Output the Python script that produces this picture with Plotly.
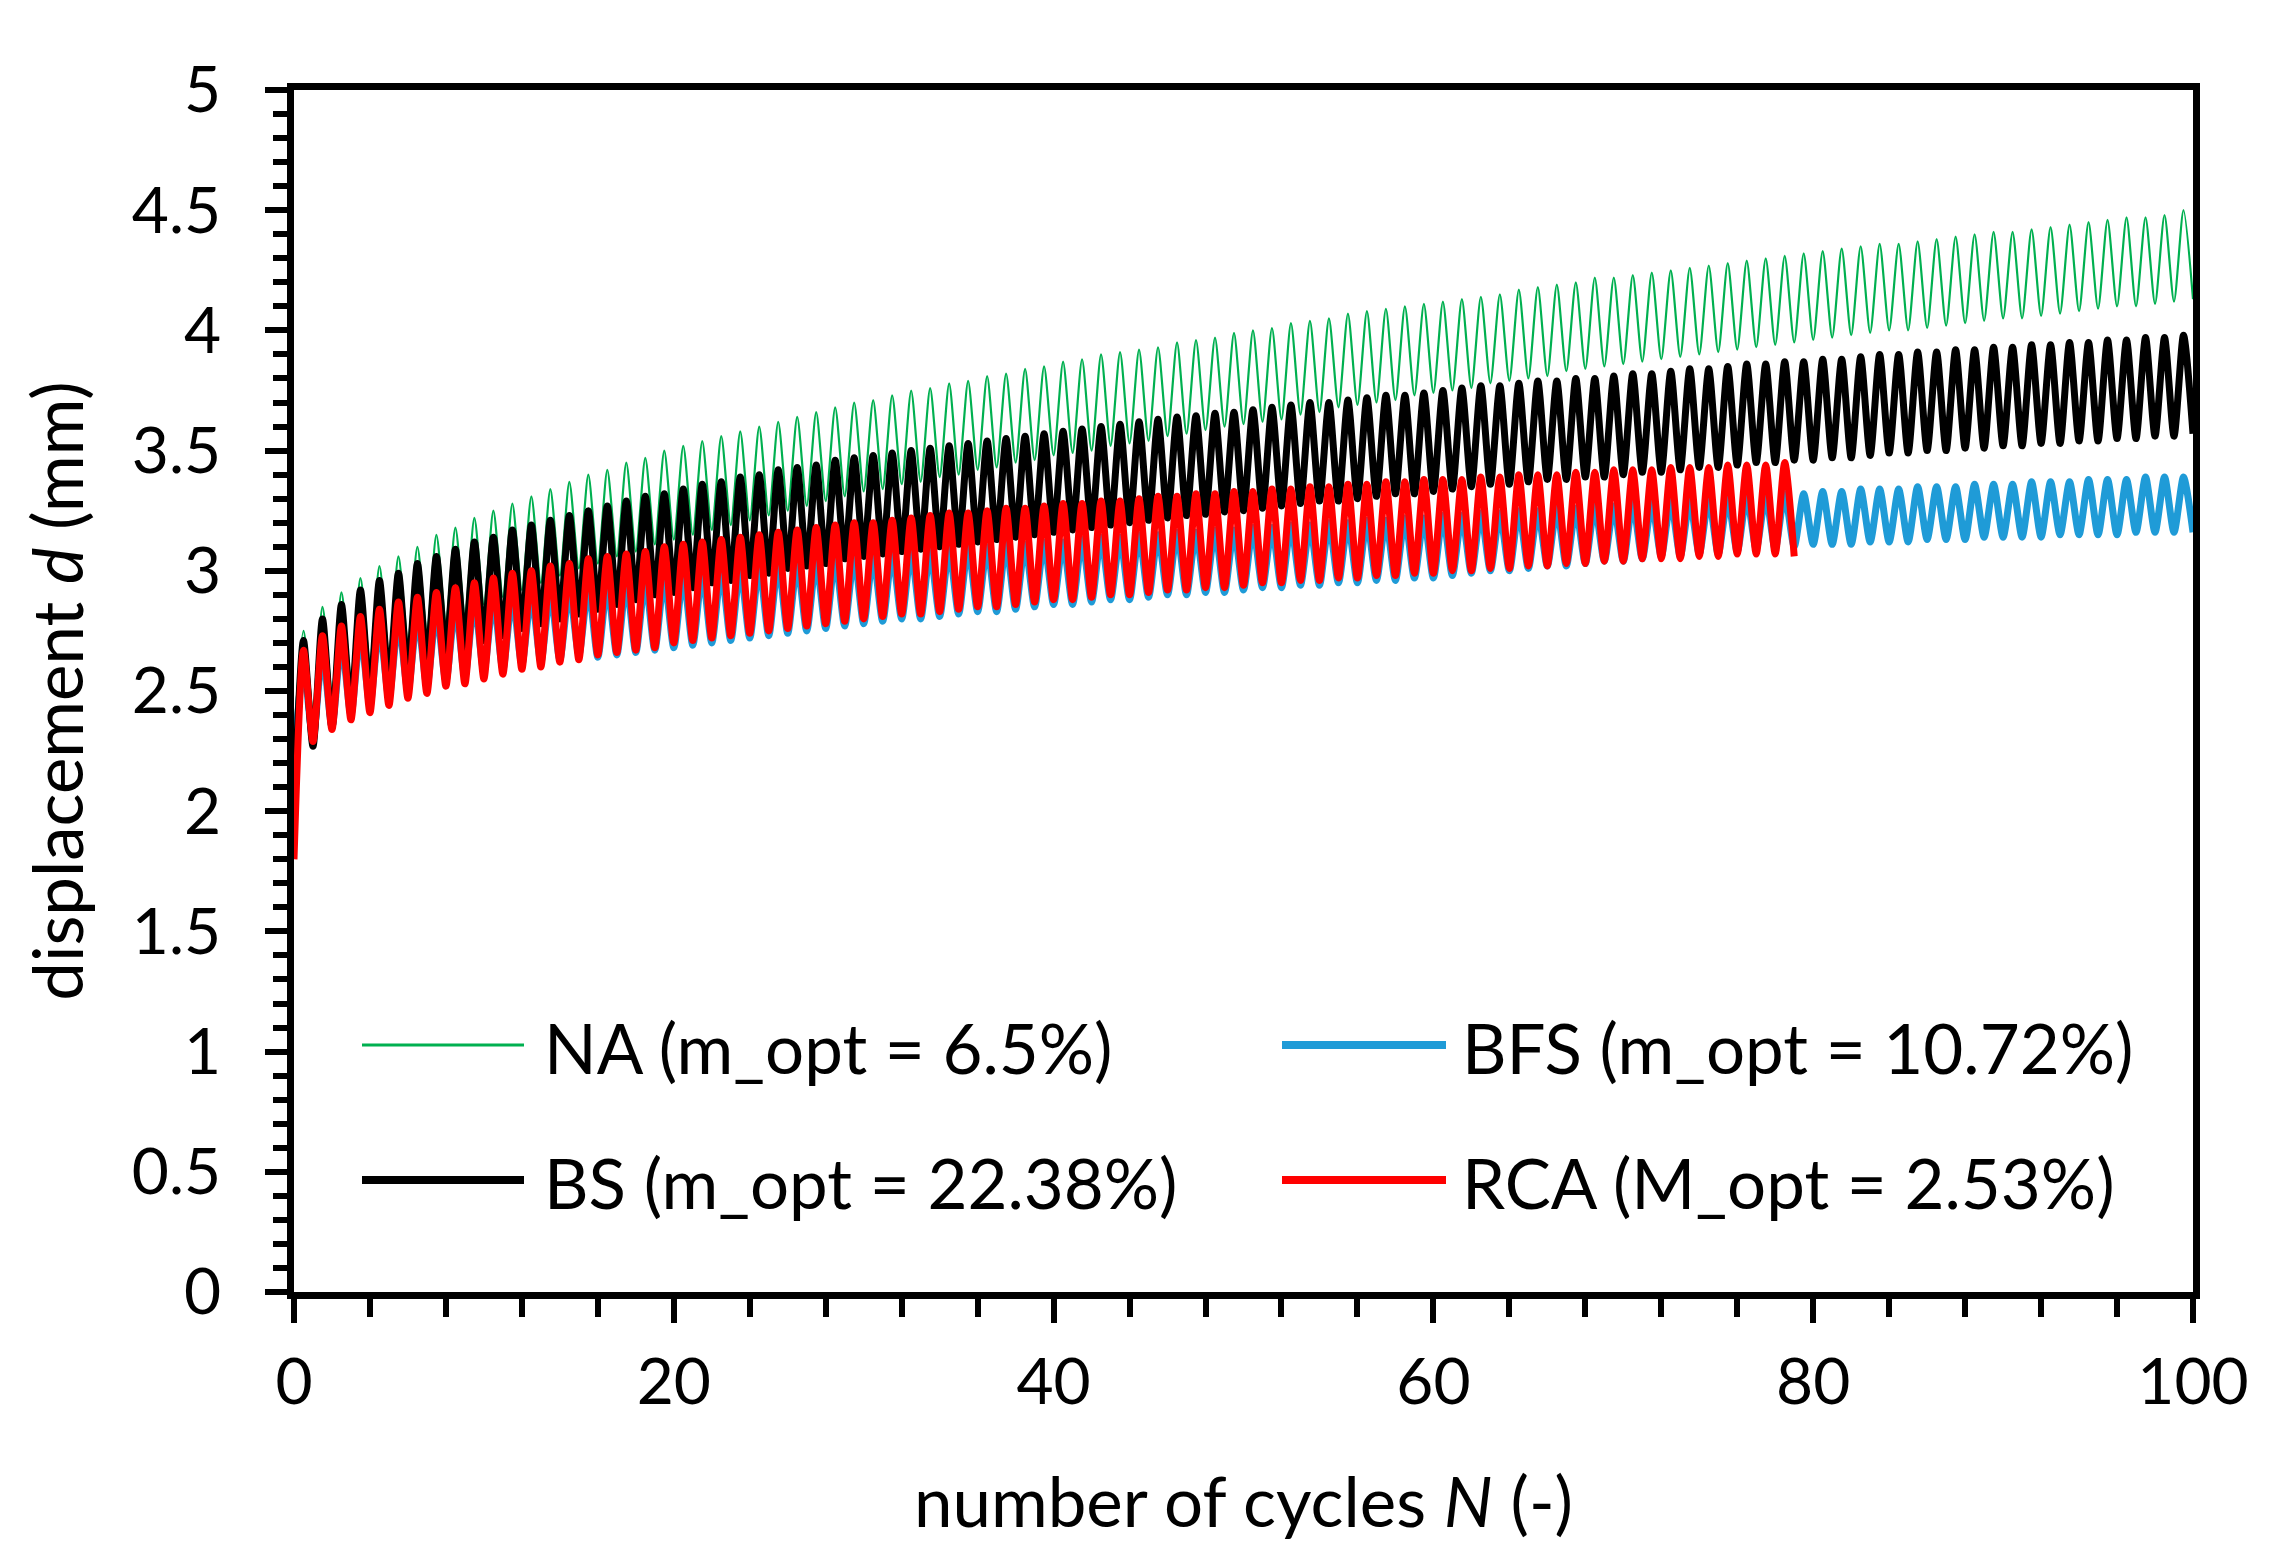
import plotly.graph_objects as go

# ---------------- data ----------------
# peaks at N = k + 0.5 (k = 0..), troughs at N = k (k = 1..)
NA_start = 2.30
NA_peaks = [2.75, 2.85, 2.91, 2.97, 3.02, 3.06, 3.10, 3.15, 3.18, 3.22,
            3.25, 3.28, 3.31, 3.34, 3.37, 3.40, 3.42, 3.45, 3.47, 3.50,
            3.52, 3.54, 3.56, 3.58, 3.60, 3.62, 3.64, 3.66, 3.68, 3.70,
            3.71, 3.73, 3.75, 3.76, 3.78, 3.79, 3.81, 3.82, 3.84, 3.85,
            3.87, 3.88, 3.90, 3.91, 3.92, 3.93, 3.95, 3.96, 3.97, 3.99,
            4.00, 4.01, 4.03, 4.04, 4.05, 4.07, 4.08, 4.09, 4.10, 4.11,
            4.12, 4.13, 4.14, 4.15, 4.17, 4.18, 4.19, 4.20, 4.22, 4.22,
            4.23, 4.24, 4.25, 4.26, 4.27, 4.28, 4.29, 4.30, 4.31, 4.32,
            4.33, 4.34, 4.35, 4.36, 4.36, 4.37, 4.38, 4.39, 4.40, 4.41,
            4.41, 4.42, 4.43, 4.44, 4.45, 4.46, 4.47, 4.47, 4.48, 4.50]
NA_troughs = [2.42, 2.50, 2.56, 2.62, 2.66, 2.71, 2.75, 2.79, 2.82, 2.86,
              2.89, 2.92, 2.95, 2.98, 3.01, 3.03, 3.06, 3.08, 3.11, 3.13,
              3.15, 3.17, 3.19, 3.21, 3.23, 3.25, 3.27, 3.29, 3.31, 3.33,
              3.34, 3.36, 3.37, 3.39, 3.40, 3.42, 3.43, 3.45, 3.46, 3.48,
              3.49, 3.50, 3.52, 3.53, 3.54, 3.56, 3.57, 3.585, 3.60, 3.61,
              3.62, 3.63, 3.65, 3.66, 3.68, 3.69, 3.70, 3.71, 3.73, 3.74,
              3.75, 3.76, 3.78, 3.79, 3.80, 3.81, 3.83, 3.84, 3.85, 3.86,
              3.87, 3.88, 3.89, 3.90, 3.91, 3.92, 3.93, 3.94, 3.95, 3.96,
              3.97, 3.98, 3.99, 4.00, 4.00, 4.01, 4.02, 4.03, 4.04, 4.05,
              4.05, 4.06, 4.07, 4.08, 4.09, 4.10, 4.10, 4.11, 4.12, 4.13]

BFS_start = 2.20
BFS_peaks = [2.60, 2.66, 2.70, 2.74, 2.77, 2.79, 2.81, 2.83, 2.85, 2.87,
             2.88, 2.89, 2.90, 2.91, 2.92, 2.93, 2.94, 2.95, 2.96, 2.97,
             2.98, 2.99, 3.00, 3.01, 3.02, 3.03, 3.03, 3.04, 3.05, 3.06,
             3.06, 3.07, 3.08, 3.08, 3.09, 3.10, 3.10, 3.11, 3.11, 3.12,
             3.12, 3.13, 3.14, 3.14, 3.15, 3.15, 3.16, 3.16, 3.17, 3.17,
             3.18, 3.18, 3.19, 3.19, 3.20, 3.20, 3.21, 3.21, 3.22, 3.22,
             3.23, 3.23, 3.24, 3.24, 3.25, 3.25, 3.26, 3.26, 3.27, 3.27,
             3.28, 3.28, 3.29, 3.29, 3.30, 3.30, 3.31, 3.31, 3.32, 3.32,
             3.33, 3.33, 3.34, 3.34, 3.34, 3.35, 3.35, 3.35, 3.36, 3.36,
             3.36, 3.37, 3.37, 3.37, 3.38, 3.38, 3.38, 3.39, 3.39, 3.39]
BFS_troughs = [2.30, 2.35, 2.40, 2.44, 2.47, 2.50, 2.52, 2.54, 2.56, 2.58,
               2.59, 2.61, 2.62, 2.63, 2.65, 2.64, 2.65, 2.66, 2.67, 2.68,
               2.69, 2.70, 2.71, 2.72, 2.73, 2.74, 2.75, 2.76, 2.77, 2.78,
               2.79, 2.80, 2.80, 2.81, 2.82, 2.83, 2.83, 2.84, 2.85, 2.86,
               2.86, 2.87, 2.88, 2.88, 2.89, 2.90, 2.90, 2.91, 2.91, 2.92,
               2.93, 2.93, 2.94, 2.94, 2.95, 2.95, 2.96, 2.96, 2.97, 2.97,
               2.98, 2.99, 3.00, 3.00, 3.01, 3.02, 3.02, 3.03, 3.04, 3.04,
               3.05, 3.06, 3.06, 3.07, 3.07, 3.08, 3.09, 3.09, 3.10, 3.11,
               3.11, 3.11, 3.12, 3.12, 3.12, 3.13, 3.13, 3.13, 3.14, 3.14,
               3.14, 3.14, 3.15, 3.15, 3.15, 3.15, 3.16, 3.16, 3.16, 3.16]

BS_start = 2.00
BS_peaks = [2.71, 2.80, 2.86, 2.92, 2.96, 2.99, 3.03, 3.06, 3.09, 3.12,
            3.14, 3.17, 3.19, 3.21, 3.23, 3.25, 3.27, 3.29, 3.31, 3.32,
            3.34, 3.36, 3.37, 3.39, 3.40, 3.42, 3.43, 3.44, 3.46, 3.47,
            3.48, 3.49, 3.50, 3.51, 3.52, 3.53, 3.54, 3.55, 3.56, 3.57,
            3.58, 3.59, 3.60, 3.61, 3.62, 3.63, 3.64, 3.645, 3.655, 3.66,
            3.67, 3.68, 3.69, 3.70, 3.70, 3.71, 3.72, 3.73, 3.73, 3.74,
            3.75, 3.76, 3.77, 3.77, 3.78, 3.79, 3.79, 3.80, 3.80, 3.81,
            3.82, 3.82, 3.83, 3.84, 3.84, 3.85, 3.86, 3.86, 3.87, 3.87,
            3.88, 3.88, 3.89, 3.90, 3.90, 3.91, 3.91, 3.92, 3.92, 3.93,
            3.93, 3.94, 3.94, 3.95, 3.95, 3.96, 3.96, 3.97, 3.97, 3.98]
BS_troughs = [2.27, 2.35, 2.42, 2.48, 2.53, 2.57, 2.61, 2.65, 2.68, 2.71,
              2.73, 2.76, 2.78, 2.80, 2.82, 2.84, 2.86, 2.88, 2.90, 2.91,
              2.93, 2.95, 2.96, 2.98, 2.99, 3.01, 3.02, 3.03, 3.05, 3.06,
              3.07, 3.08, 3.09, 3.10, 3.11, 3.12, 3.13, 3.14, 3.15, 3.16,
              3.17, 3.18, 3.19, 3.20, 3.21, 3.22, 3.23, 3.235, 3.245, 3.25,
              3.26, 3.27, 3.28, 3.29, 3.29, 3.30, 3.31, 3.32, 3.32, 3.33,
              3.34, 3.35, 3.36, 3.36, 3.37, 3.38, 3.38, 3.39, 3.39, 3.40,
              3.41, 3.41, 3.42, 3.43, 3.43, 3.44, 3.45, 3.45, 3.46, 3.46,
              3.47, 3.47, 3.48, 3.49, 3.49, 3.50, 3.50, 3.51, 3.51, 3.52,
              3.52, 3.53, 3.53, 3.54, 3.54, 3.55, 3.55, 3.56, 3.56, 3.57]

RCA_start = 1.80
RCA_peaks = [2.67, 2.73, 2.77, 2.81, 2.84, 2.87, 2.89, 2.91, 2.93, 2.95,
             2.97, 2.99, 3.00, 3.02, 3.03, 3.05, 3.06, 3.07, 3.08, 3.10,
             3.11, 3.12, 3.13, 3.14, 3.15, 3.16, 3.17, 3.18, 3.19, 3.20,
             3.20, 3.21, 3.22, 3.23, 3.24, 3.24, 3.25, 3.26, 3.26, 3.27,
             3.28, 3.28, 3.29, 3.29, 3.30, 3.31, 3.31, 3.32, 3.32, 3.33,
             3.33, 3.34, 3.34, 3.35, 3.35, 3.36, 3.36, 3.37, 3.37, 3.38,
             3.38, 3.38, 3.39, 3.39, 3.40, 3.40, 3.40, 3.41, 3.41, 3.42,
             3.42, 3.42, 3.43, 3.43, 3.43, 3.44, 3.44, 3.44, 3.45]
RCA_troughs = [2.29, 2.34, 2.38, 2.41, 2.44, 2.47, 2.49, 2.52, 2.53, 2.55,
               2.57, 2.59, 2.60, 2.62, 2.63, 2.65, 2.66, 2.67, 2.68, 2.70,
               2.71, 2.72, 2.73, 2.74, 2.75, 2.76, 2.77, 2.78, 2.79, 2.80,
               2.81, 2.82, 2.82, 2.83, 2.84, 2.85, 2.85, 2.86, 2.87, 2.88,
               2.88, 2.89, 2.90, 2.90, 2.91, 2.92, 2.92, 2.93, 2.93, 2.94,
               2.95, 2.95, 2.96, 2.96, 2.97, 2.97, 2.98, 2.98, 2.99, 2.99,
               3.00, 3.00, 3.01, 3.01, 3.02, 3.02, 3.03, 3.03, 3.04, 3.04,
               3.05, 3.05, 3.05, 3.06, 3.06, 3.07, 3.07, 3.07, 3.06]

series_names = ["NA (m_opt = 6.5%)", "BFS (m_opt = 10.72%)",
                "BS (m_opt = 22.38%)", "RCA (M_opt = 2.53%)"]
y_ticks = [0, 0.5, 1, 1.5, 2, 2.5, 3, 3.5, 4, 4.5, 5]
x_ticks = [0, 20, 40, 60, 80, 100]

# ---------------- styling ----------------
FONT = "Lato"
FS = 64      # tick labels
FS_T = 69    # titles / legend text
colors = ["#00B050", "#1F9BD7", "#000000", "#FF0000"]
widths = [2.2, 7, 7, 7]


def build(start, peaks, troughs):
    xs, ys = [0.0], [start]
    for k, p in enumerate(peaks):
        xs.append(k + 0.5)
        ys.append(p)
        if k < len(troughs):
            xs.append(k + 1.0)
            ys.append(troughs[k])
    return xs, ys


data = [(NA_start, NA_peaks, NA_troughs),
        (BFS_start, BFS_peaks, BFS_troughs),
        (BS_start, BS_peaks, BS_troughs),
        (RCA_start, RCA_peaks, RCA_troughs)]

fig = go.Figure()
for (st, pk, tr), name, col, w in zip(data, series_names, colors, widths):
    xs, ys = build(st, pk, tr)
    fig.add_trace(go.Scatter(x=xs, y=ys, mode="lines", name=name,
                             line=dict(color=col, width=w, shape="spline",
                                       smoothing=0.7),
                             showlegend=False, hoverinfo="skip"))

W, H = 2270, 1566
L, R, T, B = 294, 2193, 90, 1292


def px(xp):
    return (xp - L) / (R - L)


def py(yp):
    return (B - yp) / (B - T)


# manual legend (long line samples like the original)
leg = [(0, 362, 524, 1045, 542), (1, 1282, 1446, 1045, 1460),
       (2, 362, 524, 1180, 542), (3, 1282, 1446, 1180, 1460)]
shapes = []
annos = []
for i, x0, x1, yy, tx in leg:
    shapes.append(dict(type="line", xref="paper", yref="paper",
                       x0=px(x0), x1=px(x1), y0=py(yy), y1=py(yy),
                       line=dict(color=colors[i], width=3 if i == 0 else 8)))
    annos.append(dict(xref="paper", yref="paper", x=px(tx), y=py(yy + 2),
                      xanchor="left", yanchor="middle", showarrow=False,
                      text=series_names[i],
                      font=dict(family=FONT, size=FS_T, color="black")))

fig.update_layout(
    width=W, height=H,
    margin=dict(l=L, r=W - R, t=T, b=H - B, pad=0),
    paper_bgcolor="white", plot_bgcolor="white",
    font=dict(family=FONT, size=FS, color="black"),
    shapes=shapes, annotations=annos,
    showlegend=False,
)
fig.update_xaxes(
    range=[0, 100], tickmode="array", tickvals=x_ticks,
    showgrid=False, zeroline=False,
    showline=True, linecolor="black", linewidth=7, mirror=True,
    ticks="outside", ticklen=24, tickwidth=6, tickcolor="black",
    minor=dict(dtick=4, ticks="outside", ticklen=18, tickwidth=6,
               tickcolor="black", showgrid=False),
    ticklabelstandoff=4,
    tickfont=dict(family=FONT, size=FS, color="black"),
    title=dict(text="number of cycles <i>N</i> (-)", standoff=64,
               font=dict(family=FONT, size=FS_T, color="black")),
)
fig.update_yaxes(
    range=[0, 5], tickmode="array", tickvals=y_ticks,
    showgrid=False, zeroline=False,
    showline=True, linecolor="black", linewidth=7, mirror=True,
    ticks="outside", ticklen=22, tickwidth=6, tickcolor="black",
    minor=dict(dtick=0.1, ticks="outside", ticklen=14, tickwidth=6,
               tickcolor="black", showgrid=False),
    ticklabelstandoff=31,
    tickfont=dict(family=FONT, size=FS, color="black"),
    title=dict(text="displacement <i>d</i> (mm)", standoff=28,
               font=dict(family=FONT, size=FS_T, color="black")),
)

fig.write_html("out.html",
               config={"displayModeBar": False, "staticPlot": True},
               post_script="document.body.style.margin='0px';"
                           "document.body.style.overflow='hidden';")
